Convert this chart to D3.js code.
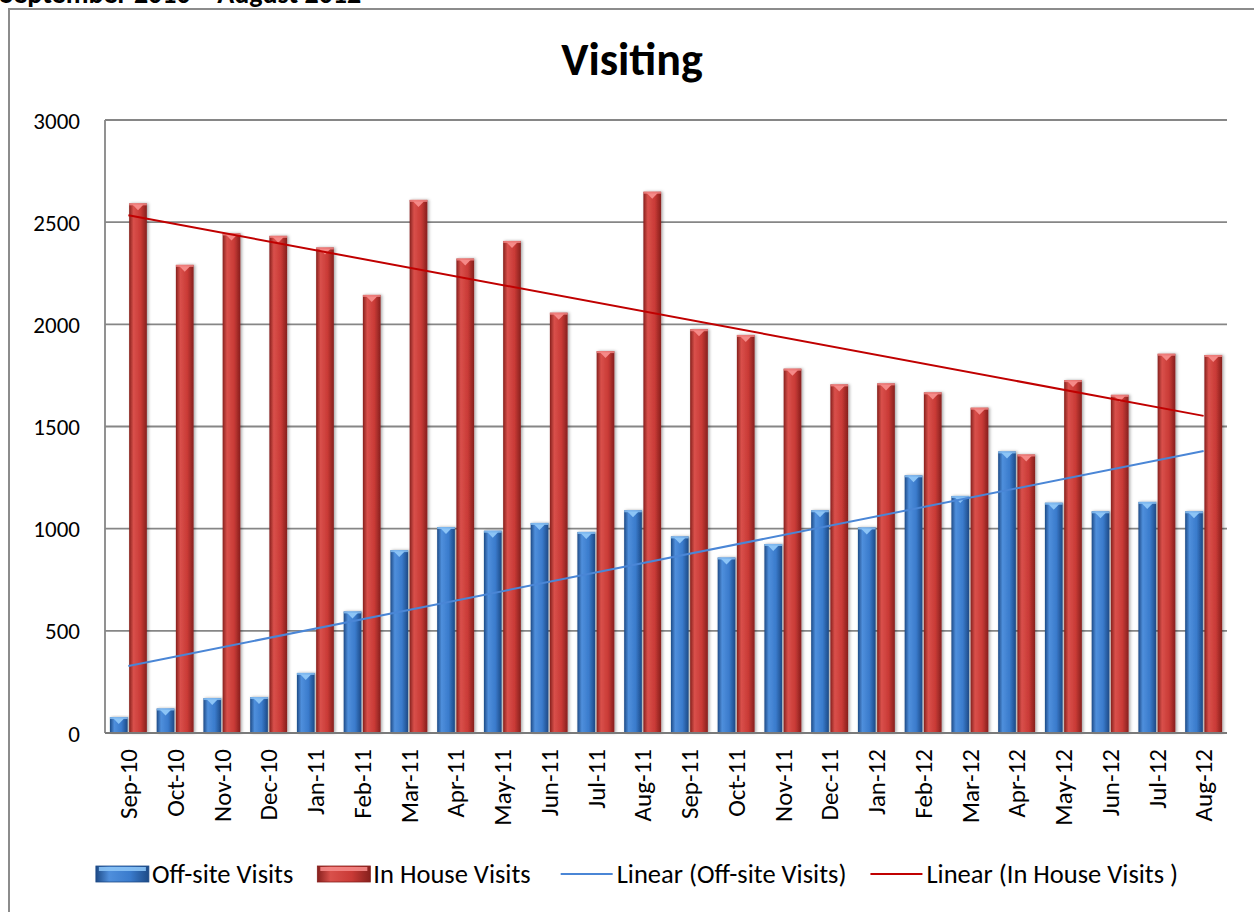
<!DOCTYPE html>
<html>
<head>
<meta charset="utf-8">
<script src="https://cdn.jsdelivr.net/npm/d3@7"></script>
<style>
  body { margin: 0; background: #fff; }
  text { font-family: Carlito, Calibri, Lato, sans-serif; fill: #000; }
</style>
</head>
<body>
<div id="chart"></div>
<script>
(function () {
    'use strict';
    var months = ["Sep-10", "Oct-10", "Nov-10", "Dec-10", "Jan-11", "Feb-11", "Mar-11", "Apr-11",
        "May-11", "Jun-11", "Jul-11", "Aug-11", "Sep-11", "Oct-11", "Nov-11", "Dec-11",
        "Jan-12", "Feb-12", "Mar-12", "Apr-12", "May-12", "Jun-12", "Jul-12", "Aug-12"],
        offSite = [78, 120, 171, 176, 294, 595, 895, 1008, 990, 1028, 984, 1090,
            962, 859, 925, 1090, 1006, 1261, 1160, 1378, 1127, 1085, 1131, 1085],
        inHouse = [2592, 2291, 2445, 2433, 2376, 2144, 2609, 2322, 2408, 2057, 1869, 2649,
            1976, 1948, 1783, 1706, 1711, 1667, 1592, 1363, 1727, 1655, 1856, 1850],
        yTicks = [0, 500, 1000, 1500, 2000, 2500, 3000],
        seriesNames = ["Off-site Visits", "In House Visits"],
        trendNames = ["Linear (Off-site Visits)", "Linear (In House Visits )"],
        width = 1254, height = 912,
        left = 105, right = 1227, top = 120, bottom = 733,
        font = "Carlito, Calibri, Lato, sans-serif",
        svg, defs, x, x1, y, g;

    var colors = {
        off: { dark: "#1d4a86", mid: "#3a7bcc", light: "#4f8fdc", cap: "#8cc4f6", line: "#4a86d6" },
        inh: { dark: "#86201d", mid: "#c93a36", light: "#d9504b", cap: "#f58a88", line: "#c00000" }
    };

    // least squares fit, like Excel's linear trendline
    function linearFit(vals) {
        var n = vals.length, sx = 0, sy = 0, sxy = 0, sxx = 0, i, a, b;
        for (i = 0; i < n; i++) {
            sx += i + 1; sy += vals[i]; sxy += (i + 1) * vals[i]; sxx += (i + 1) * (i + 1);
        }
        b = (n * sxy - sx * sy) / (n * sxx - sx * sx);
        a = (sy - b * sx) / n;
        return vals.map(function (v, i) { return a + b * (i + 1); });
    }

    svg = d3.select("#chart").append("svg")
        .attr("width", width)
        .attr("height", height);

    defs = svg.append("defs");
    Object.keys(colors).forEach(function (k) {
        var c = colors[k],
            grad = defs.append("linearGradient").attr("id", "grad-" + k)
                .attr("x1", "0%").attr("x2", "100%").attr("y1", "0%").attr("y2", "0%");
        grad.append("stop").attr("offset", "0%").attr("stop-color", c.dark);
        grad.append("stop").attr("offset", "25%").attr("stop-color", c.light);
        grad.append("stop").attr("offset", "65%").attr("stop-color", c.mid);
        grad.append("stop").attr("offset", "100%").attr("stop-color", c.dark);
    });
    var shadow = defs.append("filter").attr("id", "shadow")
        .attr("x", "-30%").attr("y", "-10%").attr("width", "160%").attr("height", "120%");
    shadow.append("feDropShadow").attr("dx", 1.5).attr("dy", 0).attr("stdDeviation", 1.5)
        .attr("flood-color", "#000").attr("flood-opacity", 0.35);

    // outer chart frame, partly off the page
    svg.append("rect")
        .attr("x", 9).attr("y", 9).attr("width", 1260).attr("height", 920)
        .attr("fill", "none").attr("stroke", "#8c8c8c").attr("stroke-width", 2);

    // heading above the frame, cut off by the top of the page
    svg.append("text")
        .attr("x", 0).attr("y", 3)
        .attr("font-size", 28).attr("font-weight", "bold")
        .text("September 2010 – August 2012");

    svg.append("text")
        .attr("x", 632).attr("y", 75)
        .attr("text-anchor", "middle")
        .attr("font-size", 46).attr("font-weight", "bold")
        .text("Visiting");

    x = d3.scaleBand().domain(months).range([left, right])
        .paddingInner(0.21).paddingOuter(0.105);
    x1 = d3.scaleBand().domain(["off", "inh"]).range([0, x.bandwidth()]).paddingInner(0.08);
    y = d3.scaleLinear().domain([0, 3000]).range([bottom, top]);

    // grid
    svg.append("g").selectAll("line")
        .data(yTicks.filter(function (d) { return d > 0; }))
        .enter().append("line")
        .attr("x1", left).attr("x2", right)
        .attr("y1", function (d) { return y(d); })
        .attr("y2", function (d) { return y(d); })
        .attr("stroke", "#868686").attr("stroke-width", 1.8);

    svg.append("line")
        .attr("x1", left).attr("x2", left).attr("y1", top).attr("y2", bottom)
        .attr("stroke", "#868686").attr("stroke-width", 1.8);

    var yAxis = svg.append("g")
        .attr("transform", "translate(" + (left - 25) + ",0)")
        .call(d3.axisLeft(y).tickValues(yTicks).tickFormat(d3.format("d")).tickSize(0).tickPadding(0));
    yAxis.select(".domain").remove();
    yAxis.selectAll("text").attr("font-size", 23).attr("dy", "0.35em")
        .style("font-family", font);

    // bars
    g = svg.append("g");
    var rows = months.map(function (m, i) {
        return [{ key: "off", month: m, value: offSite[i] }, { key: "inh", month: m, value: inHouse[i] }];
    });
    var groups = g.selectAll("g")
        .data(rows)
        .enter().append("g")
        .attr("transform", function (d) { return "translate(" + x(d[0].month) + ",0)"; });

    var bars = groups.selectAll("g.bar")
        .data(function (d) { return d; })
        .enter().append("g").attr("class", "bar");

    bars.append("rect")
        .attr("x", function (d) { return x1(d.key); })
        .attr("y", function (d) { return y(d.value); })
        .attr("width", x1.bandwidth())
        .attr("height", function (d) { return y(0) - y(d.value); })
        .attr("fill", function (d) { return "url(#grad-" + d.key + ")"; })
        .attr("filter", "url(#shadow)");

    // bevelled top of each bar
    bars.append("rect")
        .attr("x", function (d) { return x1(d.key); })
        .attr("y", function (d) { return y(d.value); })
        .attr("width", x1.bandwidth())
        .attr("height", 2)
        .attr("fill", function (d) { return colors[d.key].cap; })
        .attr("opacity", 0.8);
    bars.append("path")
        .attr("d", function (d) {
            var bx = x1(d.key), bw = x1.bandwidth(), by = y(d.value);
            return "M" + (bx + bw * 0.2) + "," + (by + 1.5) +
                "L" + (bx + bw * 0.8) + "," + (by + 1.5) +
                "L" + (bx + bw * 0.5) + "," + (by + 7) + "Z";
        })
        .attr("fill", function (d) { return colors[d.key].cap; });

    // category axis
    svg.append("line")
        .attr("x1", left).attr("x2", right).attr("y1", bottom).attr("y2", bottom)
        .attr("stroke", "#7a7a7a").attr("stroke-width", 2);

    var xAxis = svg.append("g")
        .attr("transform", "translate(0," + bottom + ")")
        .call(d3.axisBottom(x).tickSize(0).tickPadding(0));
    xAxis.select(".domain").remove();
    xAxis.selectAll("text")
        .attr("font-size", 25)
        .attr("text-anchor", "end")
        .attr("transform", "rotate(-90)")
        .attr("x", -16).attr("y", 0).attr("dy", "0.35em")
        .style("font-family", font);

    // trendlines, drawn between the first and last category centres
    var trendLine = d3.line()
        .x(function (d) { return x(d.month) + x.bandwidth() / 2; })
        .y(function (d) { return y(d.value); });
    [["off", offSite], ["inh", inHouse]].forEach(function (s) {
        var fit = linearFit(s[1]),
            last = months.length - 1;
        svg.append("path")
            .datum([{ month: months[0], value: fit[0] }, { month: months[last], value: fit[last] }])
            .attr("d", trendLine)
            .attr("fill", "none")
            .attr("stroke", colors[s[0]].line)
            .attr("stroke-width", 2);
    });

    // legend
    var legend = svg.append("g").attr("transform", "translate(0,874)");
    var items = [
        { kind: "bar", key: "off", label: seriesNames[0] },
        { kind: "bar", key: "inh", label: seriesNames[1] },
        { kind: "line", key: "off", label: trendNames[0] },
        { kind: "line", key: "inh", label: trendNames[1] }
    ];
    var cx = 0, gaps = [24, 30, 24, 0];
    var itemG = legend.append("g");
    items.forEach(function (it, i) {
        var ig = itemG.append("g").attr("transform", "translate(" + cx + ",0)");
        if (it.kind === "bar") {
            ig.append("rect").attr("x", 0).attr("y", -8).attr("width", 53).attr("height", 16)
                .attr("fill", "url(#grad-" + it.key + ")").attr("stroke", colors[it.key].dark)
                .attr("stroke-width", 0.8);
            ig.append("rect").attr("x", 3).attr("y", -7).attr("width", 47).attr("height", 4)
                .attr("fill", colors[it.key].cap).attr("opacity", 0.9);
        } else {
            ig.append("line").attr("x1", 0).attr("x2", 52).attr("y1", 0).attr("y2", 0)
                .attr("stroke", colors[it.key].line).attr("stroke-width", 2);
        }
        var t = ig.append("text").attr("x", 56).attr("y", 0).attr("dy", "0.35em")
            .attr("font-size", 26.5).text(it.label);
        cx += 56 + t.node().getComputedTextLength() + gaps[i];
    });
    itemG.attr("transform", "translate(" + (637 - cx / 2) + ",0)");
}());
</script>
</body>
</html>
